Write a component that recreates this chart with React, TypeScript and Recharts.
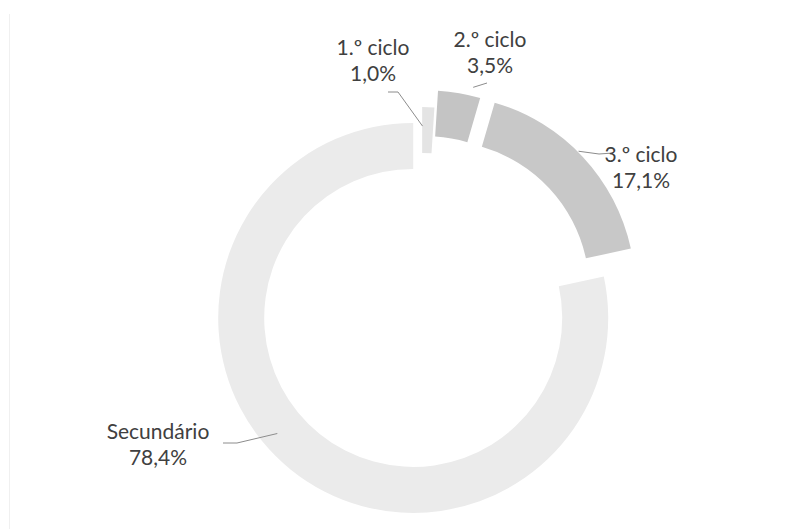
import React from 'react';
import { PieChart, Pie, Cell } from 'recharts';

// níveis de ensino e respetivas percentagens
const categories = ['1.º ciclo', '2.º ciclo', '3.º ciclo', 'Secundário'];
const shares = [1.0, 3.5, 17.1, 78.4];
const shareLabels = ['1,0%', '3,5%', '17,1%', '78,4%'];

const COLORS = ['#e4e4e4', '#c4c4c4', '#c8c8c8', '#ebebeb'];
const EXPLODE = [5, 22, 25, 14];

const CX = 417;
const CY = 302;
const R_IN = 149;
const R_OUT = 195;

// label text (center x, first baseline) and leader lines
const LABEL_POS = [
  { x: 373, y: 55 },
  { x: 490, y: 47 },
  { x: 641, y: 162 },
  { x: 158, y: 439 },
];
const LEADER = [
  { pts: [[388, 92], [398, 92]], frac: 0.5, r: 171 },
  { pts: [[487, 83]], frac: 0.92, r: 200 },
  { pts: [[613, 153], [599, 154]], frac: 0.5, r: 196 },
  { pts: [[223, 443], [237, 443]], frac: 0.53, r: 178 },
];

const total = shares.reduce((s, v) => s + v, 0);
const bounds = shares.map((v, i) => {
  const start = (shares.slice(0, i).reduce((s, x) => s + x, 0) / total) * 360;
  return { start, end: start + (v / total) * 360 };
});
const rad = (d: number) => (d * Math.PI) / 180;

const offset = (i: number) => {
  const mid = (bounds[i].start + bounds[i].end) / 2;
  return { dx: EXPLODE[i] * Math.sin(rad(mid)), dy: -EXPLODE[i] * Math.cos(rad(mid)) };
};

const data = categories.map((name, i) => ({ name, value: shares[i] }));

const renderLabel = ({ index }: any) => {
  const { start, end } = bounds[index];
  const lead = LEADER[index];
  const a = start + (end - start) * lead.frac;
  const { dx, dy } = offset(index);
  const ex = CX + dx + lead.r * Math.sin(rad(a));
  const ey = CY + dy - lead.r * Math.cos(rad(a));
  const pts = [...lead.pts, [ex, ey]].map((p) => p.join(',')).join(' ');
  const pos = LABEL_POS[index];
  return (
    <g key={`lbl-${index}`}>
      <polyline points={pts} fill="none" stroke="#8c8c8c" strokeWidth={1} />
      <text x={pos.x} y={pos.y} textAnchor="middle" fill="#404040" fontSize={21} fontFamily="Lato, 'Noto Sans', sans-serif">
        {categories[index]}
      </text>
      <text x={pos.x} y={pos.y + 26} textAnchor="middle" fill="#404040" fontSize={21} fontFamily="Lato, 'Noto Sans', sans-serif">
        {shareLabels[index]}
      </text>
    </g>
  );
};

const App: React.FC = () => {
  return (
    <div style={{ position: 'fixed', left: 0, top: 0, width: 787, height: 529, background: '#fff' }}>
      <div style={{ position: 'absolute', left: 9, top: 14, width: 1, height: 515, background: '#f0f0f0' }} />
      <PieChart width={787} height={529}>
        <Pie
          data={data}
          dataKey="value"
          cx={CX}
          cy={CY}
          innerRadius={R_IN}
          outerRadius={R_OUT}
          startAngle={90}
          endAngle={-270}
          stroke="none"
          labelLine={false}
          label={renderLabel}
          isAnimationActive={false}
        >
          {data.map((entry, i) => {
            const { dx, dy } = offset(i);
            return <Cell key={`cell-${i}`} fill={COLORS[i]} transform={`translate(${dx.toFixed(2)},${dy.toFixed(2)})`} />;
          })}
        </Pie>
      </PieChart>
    </div>
  );
};

export default App;
